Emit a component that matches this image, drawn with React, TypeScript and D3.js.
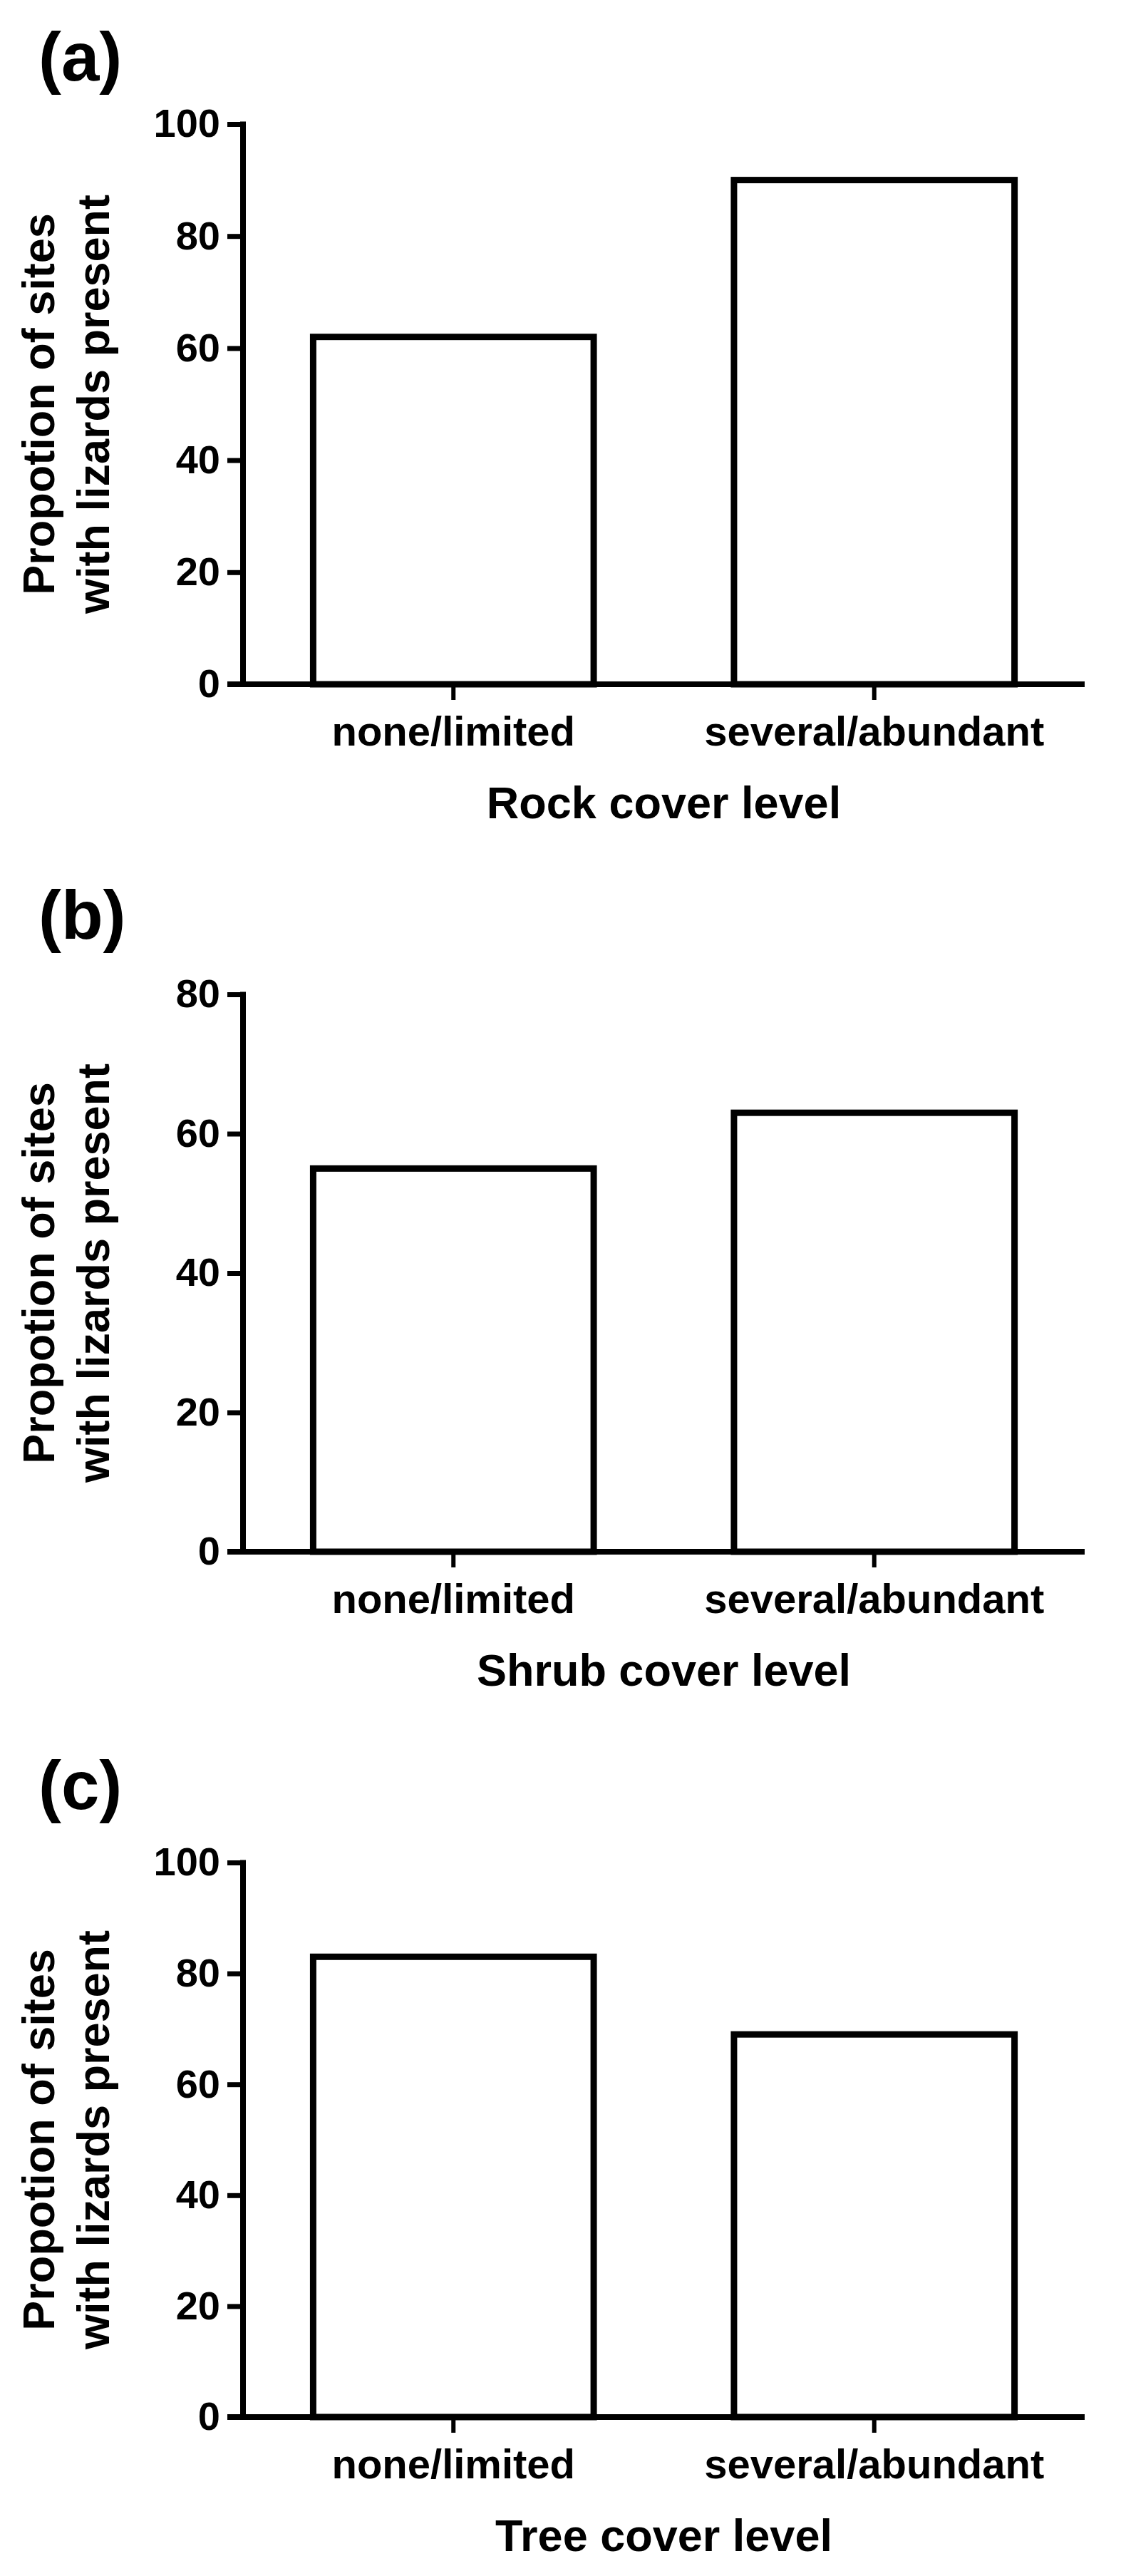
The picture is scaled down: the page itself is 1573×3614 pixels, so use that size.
import React, { useRef, useEffect } from "react";
import * as d3 from "d3";

// categories + values
const categories = ["none/limited", "several/abundant"];
const rockValues = [62, 90];
const shrubValues = [55, 63];
const treeValues = [83, 69];

const panelLetters = ["(a)", "(b)", "(c)"];
const xTitles = ["Rock cover level", "Shrub cover level", "Tree cover level"];
const yMaxes = [100, 80, 100];
const yTicks100 = [0, 20, 40, 60, 80, 100];
const yTicks80 = [0, 20, 40, 60, 80];
const yTitleLines = ["Propotion of sites", "with lizards present"];

const WIDTH = 1573;
const HEIGHT = 3614;
const FONT = "'Liberation Sans', Arial, Helvetica, sans-serif";

// pixel layout of each panel's plot area
const panelTops = [174, 1395, 2613];
const panelBottoms = [960, 2177, 3391];
const letterBaselines = [113, 1317, 2538];
const plotLeft = 341;
const plotRight = 1522;

export default function App() {
    const svgRef = useRef<SVGSVGElement>(null);

    useEffect(() => {
        if (!svgRef.current) return;
        const svg = d3.select(svgRef.current);
        svg.selectAll("*").remove();

        svg.append("rect")
            .attr("width", WIDTH)
            .attr("height", HEIGHT)
            .attr("fill", "#fff");

        const panels = [
            { values: rockValues, ticks: yTicks100 },
            { values: shrubValues, ticks: yTicks80 },
            { values: treeValues, ticks: yTicks100 },
        ];

        panels.forEach((p, i) => {
            const top = panelTops[i];
            const bottom = panelBottoms[i];
            const g = svg.append("g")
                .attr("font-family", FONT)
                .attr("font-weight", "bold");

            const x = d3.scaleBand<string>()
                .domain(categories)
                .range([plotLeft, plotRight])
                .paddingInner(1 / 3)
                .paddingOuter(1 / 6);

            const y = d3.scaleLinear()
                .domain([0, yMaxes[i]])
                .range([bottom, top]);

            // Bars
            g.selectAll("rect.bar")
                .data(p.values)
                .join("rect")
                .attr("class", "bar")
                .attr("x", (_, j) => x(categories[j])!)
                .attr("width", x.bandwidth())
                .attr("y", d => y(d))
                .attr("height", d => y(0) - y(d))
                .attr("fill", "#fff")
                .attr("stroke", "#000")
                .attr("stroke-width", 9)
                .attr("stroke-linejoin", "miter");

            // Y axis
            const yAxis = g.append("g")
                .attr("transform", `translate(${plotLeft},0)`)
                .call(d3.axisLeft(y)
                    .tickValues(p.ticks)
                    .tickSize(22)
                    .tickSizeOuter(0)
                    .tickPadding(10)
                    .tickFormat(d3.format("d")));
            yAxis.select(".domain").remove();
            yAxis.selectAll(".tick line")
                .attr("stroke", "#000")
                .attr("stroke-width", 7);
            yAxis.selectAll(".tick text")
                .attr("fill", "#000")
                .attr("font-size", 56)
                .attr("font-family", FONT)
                .attr("font-weight", "bold");

            // X axis
            const xAxis = g.append("g")
                .attr("transform", `translate(0,${bottom})`)
                .call(d3.axisBottom(x)
                    .tickSize(22)
                    .tickSizeOuter(0)
                    .tickPadding(23));
            xAxis.select(".domain").remove();
            xAxis.selectAll(".tick line")
                .attr("stroke", "#000")
                .attr("stroke-width", 6);
            xAxis.selectAll(".tick text")
                .attr("fill", "#000")
                .attr("font-size", 58)
                .attr("font-family", FONT)
                .attr("font-weight", "bold");

            // axis lines
            g.append("line")
                .attr("x1", plotLeft)
                .attr("x2", plotLeft)
                .attr("y1", y(yMaxes[i]) - 3.5)
                .attr("y2", bottom)
                .attr("stroke", "#000")
                .attr("stroke-width", 8);
            g.append("line")
                .attr("x1", plotLeft - 22)
                .attr("x2", plotRight)
                .attr("y1", bottom)
                .attr("y2", bottom)
                .attr("stroke", "#000")
                .attr("stroke-width", 8);

            // X title
            g.append("text")
                .attr("x", (plotLeft + plotRight) / 2)
                .attr("y", bottom + 188)
                .attr("text-anchor", "middle")
                .attr("font-size", 63)
                .attr("fill", "#000")
                .text(xTitles[i]);

            // Y title, two lines
            const cy = (top + bottom) / 2;
            [76, 153].forEach((bx, k) => {
                g.append("text")
                    .attr("transform", `translate(${bx},${cy}) rotate(-90)`)
                    .attr("text-anchor", "middle")
                    .attr("font-size", 63)
                    .attr("fill", "#000")
                    .text(yTitleLines[k]);
            });

            // Panel letter
            g.append("text")
                .attr("x", 54)
                .attr("y", letterBaselines[i])
                .attr("font-size", 96)
                .attr("fill", "#000")
                .text(panelLetters[i]);
        });
    }, []);

    return (
        <div style={{ position: "absolute", left: 0, top: 0 }}>
            <svg ref={svgRef} width={WIDTH} height={HEIGHT} style={{ display: "block" }} />
        </div>
    );
}
